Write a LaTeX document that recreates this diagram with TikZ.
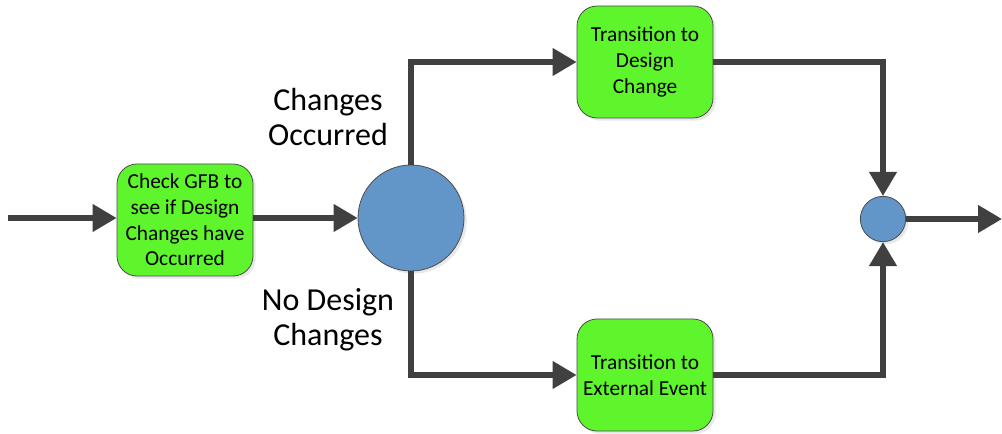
\documentclass[tikz,border=0pt]{standalone}
\usepackage{fontspec}
\setmainfont{Carlito}
\usetikzlibrary{arrows.meta,shadows}
\definecolor{boxgreen}{HTML}{5EF52C}
\definecolor{circblue}{HTML}{6396C8}
\definecolor{linegray}{HTML}{404040}
\begin{document}
\begin{tikzpicture}[x=0.75pt,y=-0.75pt,
  box/.style={draw=black!70,line width=0.6pt,fill=boxgreen,rounded corners=15pt,
    minimum width=102pt,minimum height=84pt,inner sep=2pt,align=center,
    font=\fontsize{16pt}{19.2pt}\selectfont,
    drop shadow={shadow xshift=2pt,shadow yshift=-2pt,fill=black!15,opacity=0.6}},
  junction/.style={circle,draw=black!70,line width=0.6pt,fill=circblue,inner sep=0pt,
    drop shadow={shadow xshift=2pt,shadow yshift=-2pt,fill=black!15,opacity=0.6}},
  flow/.style={draw=linegray,line width=4pt,-{Triangle[length=18pt,width=20pt]}},
  lbl/.style={align=center,font=\fontsize{24pt}{26.5pt}\selectfont}]
\useasboundingbox (0,0) rectangle (1002,434);
\node[box] (check) at (185,220) {Check GFB to\\see if Design\\Changes have\\Occurred};
\node[junction,minimum size=79.5pt] (big) at (411,218) {};
\node[box] (design) at (645,62) {Transition to\\Design\\Change};
\node[box] (ext) at (645,375) {Transition to\\External Event};
\node[junction,minimum size=34pt] (small) at (883,219) {};
\coordinate (in) at (8,218);
\coordinate (out) at (1002,219);
\node[lbl] (lchg) at (328,117) {Changes\\Occurred};
\node[lbl] (lno) at (328,320) {No Design\\Changes};
\draw[flow] (in) -- (check.west |- in);
\draw[flow] (check.east |- big) -- (big.west);
\draw[flow] (big.north) |- (design.west);
\draw[flow] (big.south) |- (ext.west);
\draw[flow] (design.east) -| (small.north);
\draw[flow] (ext.east) -| (small.south);
\draw[flow] (small.east) -- (out);
\end{tikzpicture}
\end{document}
